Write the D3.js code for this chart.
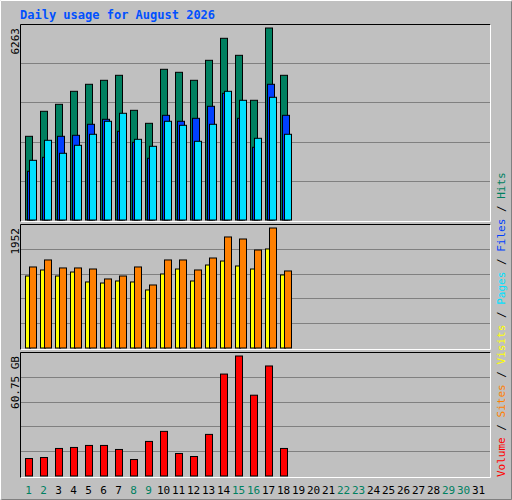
<!DOCTYPE html>
<html><head><meta charset="utf-8">
<script src="https://cdn.jsdelivr.net/npm/d3@7"></script>
<style>body{margin:0;background:#fff}text{font-family:"DejaVu Sans Mono",monospace}</style>
</head><body><svg id="chart"></svg>
<script>
// Values
const days = d3.range(1, 32);
const weekendDays = [1, 2, 8, 9, 15, 16, 22, 23, 29, 30];
const hits = [2730, 3546, 3774, 4198, 4427, 4557, 4720, 3578, 3154, 4916, 4818, 4557, 5209, 5927, 5372, 3905, 6263, 4720];
const files = [1589, 2045, 2730, 2763, 3122, 3285, 2893, 2535, 2013, 3415, 3220, 3317, 3709, 4133, 3317, 2372, 4427, 3415];
const pages = [1947, 2600, 2176, 2437, 2796, 3220, 3481, 2632, 2404, 3220, 3089, 2567, 3122, 4198, 3905, 2665, 4003, 2796];
const visits = [1171, 1269, 1171, 1236, 1074, 1057, 1090, 1074, 944, 1204, 1285, 1090, 1350, 1415, 1334, 1285, 1611, 1188];
const sites = [1318, 1432, 1302, 1302, 1285, 1123, 1171, 1318, 1025, 1432, 1432, 1269, 1464, 1806, 1773, 1594, 1952, 1253];
const volume = [8.85, 9.36, 13.94, 14.45, 15.47, 15.47, 13.43, 8.34, 17.5, 22.59, 11.4, 9.87, 21.06, 51.6, 60.75, 40.9, 55.7, 13.94];

const svg = d3.select("#chart").attr("width", 512).attr("height", 500);

// background with bevel
svg.append("rect").attr("width", 512).attr("height", 500).attr("fill", "#c0c0c0");
svg.append("path").attr("d", "M0.5,499.5V0.5H511.5").attr("stroke", "#fff").attr("fill", "none");
svg.append("path").attr("d", "M1.5,499.5H511.5V1.5").attr("stroke", "#808080").attr("fill", "none");

svg.append("text").attr("x", 20).attr("y", 19).attr("fill", "#0050ff")
  .attr("font-size", 12).attr("font-weight", "bold").text("Daily usage for August 2026");

const x = d3.scaleBand().domain(days).range([18, 483]);

function panel(top, bottom, max, label) {
  const y = d3.scaleLinear().domain([0, max]).range([bottom, top + 4]);
  const g = svg.append("g");
  // frame: dark top/left, white bottom/right
  g.append("path").attr("d", `M20.5,${bottom + 2}V${top + 0.5}H490.5`).attr("stroke", "#000").attr("fill", "none");
  g.append("path").attr("d", `M20.5,${bottom + 1.5}H490.5V${top + 0.5}`).attr("stroke", "#fff").attr("fill", "none");
  const step = (bottom - top) / 5;
  for (let i = 1; i <= 4; i++) {
    const gy = Math.round(bottom - i * step) + 0.5;
    g.append("line").attr("x1", 21).attr("x2", 490).attr("y1", gy).attr("y2", gy).attr("stroke", "#808080");
  }
  svg.append("text").attr("transform", `translate(19,${top + 4}) rotate(-90)`)
    .attr("text-anchor", "end").attr("font-size", 11).attr("fill", "#000").text(label);
  return { g, y, bottom };
}

function bars(p, data, offset, width, color) {
  p.g.selectAll(null).data(data).join("rect")
    .attr("x", (d, i) => x(days[i]) + 7.5 + offset)
    .attr("y", d => p.y(d))
    .attr("width", width)
    .attr("height", d => p.bottom - p.y(d))
    .attr("fill", color).attr("stroke", "#000");
}

const p1 = panel(24, 220, 6263, "6263");
bars(p1, hits, 0, 7, "#008060");
bars(p1, files, 2, 7, "#0040ff");
bars(p1, pages, 4, 7, "#00e0ff");

const p2 = panel(224, 348, 1952, "1952");
bars(p2, visits, 0, 5, "#ffff00");
bars(p2, sites, 4, 7, "#ff8000");

const p3 = panel(352, 476, 60.75, "60.75 GB");
bars(p3, volume, 0, 7, "#ff0000");

// day labels
svg.selectAll(".day").data(days).join("text")
  .attr("x", d => x(d) + x.bandwidth() / 2 + 3)
  .attr("y", 494).attr("text-anchor", "middle").attr("font-size", 11)
  .attr("fill", d => weekendDays.includes(d) ? "#008060" : "#000").text(d => d);

// right-hand legend
const legend = [["Volume", "#ff0000"], [" / ", "#000"], ["Sites", "#ff8000"], [" / ", "#000"],
  ["Visits", "#ffff00"], [" / ", "#000"], ["Pages", "#00e0ff"], [" / ", "#000"],
  ["Files", "#0040ff"], [" / ", "#000"], ["Hits", "#008060"]];
const lt = svg.append("text").attr("transform", "translate(505,477) rotate(-90)")
  .attr("font-size", 11).attr("xml:space", "preserve");
legend.forEach(([t, c]) => lt.append("tspan").attr("fill", c).text(t));
</script></body></html>
